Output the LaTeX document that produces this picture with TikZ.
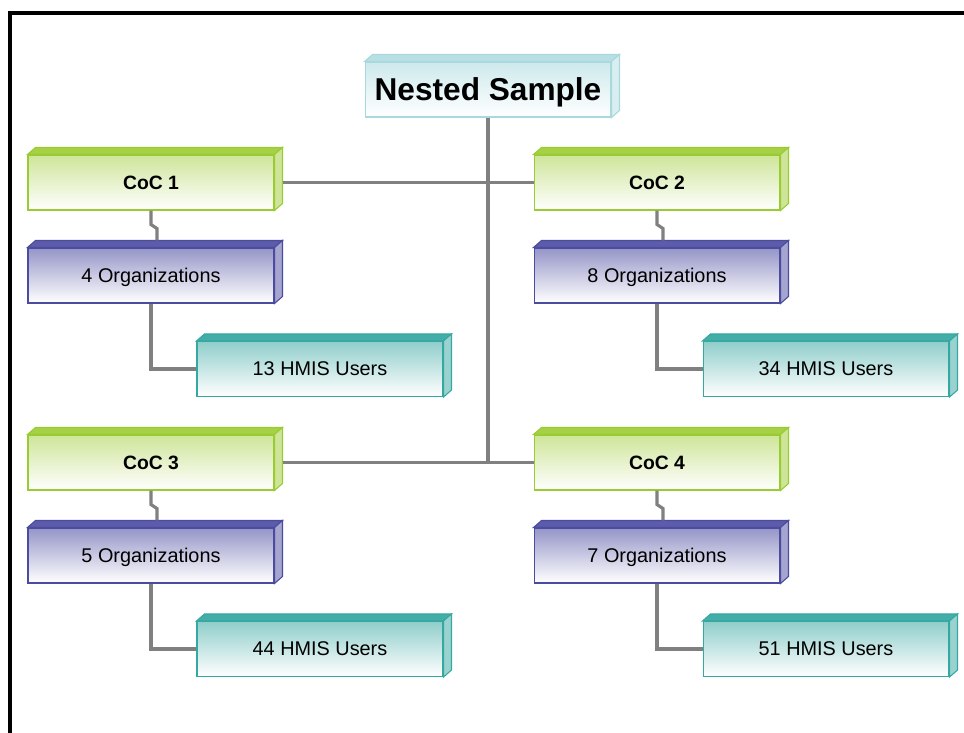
\documentclass[tikz,border=0pt]{standalone}
\usepackage{fontspec}
\setmainfont{Liberation Sans}
\definecolor{cocline}{HTML}{99CC33}
\definecolor{coctop}{HTML}{A6D046}
\definecolor{orgline}{HTML}{4B4BA0}
\definecolor{orgtop}{HTML}{5C5CAA}
\definecolor{userline}{HTML}{35A8A2}
\definecolor{usertop}{HTML}{45ADA8}
\definecolor{nestline}{HTML}{A9D9DD}
\definecolor{nesttop}{HTML}{B8E0E4}
\definecolor{linkgray}{HTML}{808080}
\begin{document}
\begin{tikzpicture}[
        x=0.02cm, y=-0.02cm,
        box/.style={rectangle, draw, line width=0.6pt, minimum width=4.92cm, minimum height=1.1cm, inner sep=0pt, text depth=0pt, text centered, shading=axis},
        nestbox/.style={box, draw=nestline, top color=nesttop!70, bottom color=white, font=\fontsize{18}{20}\selectfont\bfseries},
        cocbox/.style={box, draw=cocline, top color=coctop!55, bottom color=white, font=\fontsize{11}{13}\selectfont\bfseries},
        orgbox/.style={box, draw=orgline, top color=orgtop!65, bottom color=white, font=\fontsize{11.3}{13}\selectfont},
        userbox/.style={box, draw=userline, top color=usertop!60, bottom color=white, font=\fontsize{11.3}{13}\selectfont},
        link/.style={draw=linkgray, line width=1.8pt}
    ]
        \useasboundingbox (0,0) rectangle (964,733);

        % frame
        \draw[line width=2.3pt] (10,735) -- (10,13) -- (966,13);

        \node[nestbox] (top) at (488,89.5) {Nested Sample};

        % CoC 1
        \node[cocbox] (coc1) at (151,182.5) {CoC 1};
        \node[orgbox] (org1) at (151,275.5) {4 Organizations};
        \node[userbox] (users1) at (320,369) {13 HMIS Users};

        % CoC 2
        \node[cocbox] (coc2) at (657,182.5) {CoC 2};
        \node[orgbox] (org2) at (657,275.5) {8 Organizations};
        \node[userbox] (users2) at (826,369) {34 HMIS Users};

        % CoC 3
        \node[cocbox] (coc3) at (151,462.5) {CoC 3};
        \node[orgbox] (org3) at (151,555.5) {5 Organizations};
        \node[userbox] (users3) at (320,649) {44 HMIS Users};

        % CoC 4
        \node[cocbox] (coc4) at (657,462.5) {CoC 4};
        \node[orgbox] (org4) at (657,555.5) {7 Organizations};
        \node[userbox] (users4) at (826,649) {51 HMIS Users};

        % top and side faces
        \foreach \n/\c in {top/nest, coc1/coc, coc2/coc, coc3/coc, coc4/coc, org1/org, org2/org, org3/org, org4/org, users1/user, users2/user, users3/user, users4/user} {
            \filldraw[draw=\c line, fill=\c top, line width=0.6pt] (\n.north west) -- ++(8,-7) -- ([shift={(8,-7)}]\n.north east) -- (\n.north east) -- cycle;
            \filldraw[draw=\c line, fill=\c top!55, line width=0.6pt] (\n.north east) -- ++(8,-7) -- ([shift={(8,-7)}]\n.south east) -- (\n.south east) -- cycle;
        }

        % connectors
        \draw[link] (top.south) -- (top.south |- coc3.east);
        \draw[link] ([xshift=0.16cm]coc1.east) -- (coc2.west);
        \draw[link] ([xshift=0.16cm]coc3.east) -- (coc4.west);

        \draw[link] (coc1.south) -- ++(0,14) -- ++(6,4) -- ([shift={(6,-7)}]org1.north);
        \draw[link] (coc2.south) -- ++(0,14) -- ++(6,4) -- ([shift={(6,-7)}]org2.north);
        \draw[link] (coc3.south) -- ++(0,14) -- ++(6,4) -- ([shift={(6,-7)}]org3.north);
        \draw[link] (coc4.south) -- ++(0,14) -- ++(6,4) -- ([shift={(6,-7)}]org4.north);

        \draw[link] (org1.south) |- (users1.west);
        \draw[link] (org2.south) |- (users2.west);
        \draw[link] (org3.south) |- (users3.west);
        \draw[link] (org4.south) |- (users4.west);

    \end{tikzpicture}
\end{document}
